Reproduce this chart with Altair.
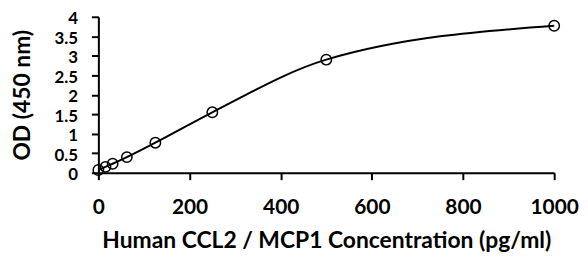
import altair as alt
import pandas as pd

conc = [0, 15.6, 31.25, 62.5, 125, 250, 500, 1000]
od = [0.07, 0.15, 0.23, 0.40, 0.77, 1.55, 2.90, 3.77]
x_ticks = [0, 200, 400, 600, 800, 1000]
y_ticks = [0, 0.5, 1, 1.5, 2, 2.5, 3, 3.5, 4]

df = pd.DataFrame({"conc": conc, "od": od})

FONT = "Lato"

common = dict(grid=False, labelFontWeight="bold", labelFont=FONT,
              labelColor="black", titleFontWeight="bold",
              titleFont=FONT, titleColor="black", domainColor="black",
              domainWidth=2, tickColor="black", tickWidth=2, tickSize=7,
              labelOverlap=False, labelFlush=False)

x = alt.X("conc:Q", title="Human CCL2 / MCP1 Concentration (pg/ml)",
          scale=alt.Scale(domain=[0, 1000], nice=False),
          axis=alt.Axis(values=x_ticks, format="d", titlePadding=12,
                        labelFontSize=21, titleFontSize=23, labelPadding=17,
                        **common))
y = alt.Y("od:Q", title="OD (450 nm)",
          scale=alt.Scale(domain=[0, 4], nice=False),
          axis=alt.Axis(values=y_ticks, format="~g", titlePadding=20,
                        labelFontSize=17, titleFontSize=23, labelPadding=14,
                        labelOffset=2, **common))

base = alt.Chart(df)

curve = base.mark_line(color="black", strokeWidth=2,
                       interpolate="monotone").encode(x=x, y=y)

pts = base.mark_point(shape="circle", filled=False, size=110, color="black",
                      strokeWidth=1.5, opacity=1).encode(x=x, y=y)

chart = alt.layer(curve, pts).properties(
    width=459, height=157,
    autosize=alt.AutoSizeParams(type="none"),
    padding={"left": 91, "top": 8, "right": 26, "bottom": 80},
).configure_view(stroke=None)

chart.save("out.html", embed_options={"renderer": "svg", "actions": False})
